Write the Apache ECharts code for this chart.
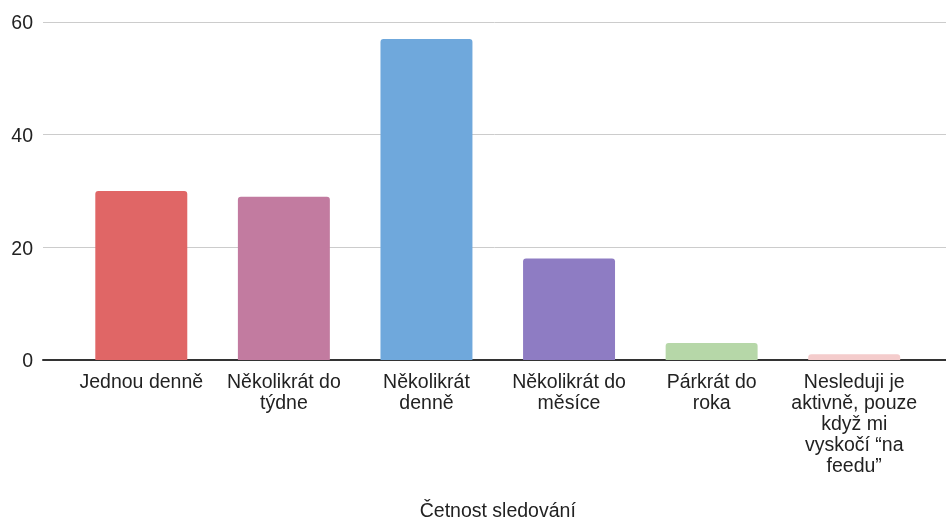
<!DOCTYPE html>
<html>
<head>
<meta charset="utf-8">
<script src="https://cdn.jsdelivr.net/npm/echarts@6/dist/echarts.min.js"></script>
<style>
  html, body { margin: 0; padding: 0; background: #fff; }
  #chart { width: 946px; height: 520px; }
</style>
</head>
<body>
<div id="chart"></div>
<script>
// Frequency categories (tick labels carry their own line breaks)
const categories = [
  'Jednou denně',
  'Několikrát do\ntýdne',
  'Několikrát\ndenně',
  'Několikrát do\nměsíce',
  'Párkrát do\nroka',
  'Nesleduji je\naktivně, pouze\nkdyž mi\nvyskočí “na\nfeedu”'
];
const counts = [30, 29, 57, 18, 3, 1];
const barColors = ['#e06666', '#c27ba0', '#6fa8dc', '#8e7cc3', '#b6d7a8', '#f4cccc'];
const yTicks = [0, 20, 40, 60];
const axisTitle = 'Četnost sledování';

const FONT = '"Liberation Sans", Arial, sans-serif';
const TEXT = '#222222';
const chart = echarts.init(document.getElementById('chart'), null, { renderer: 'canvas' });

chart.setOption({
  animation: false,
  grid: [
    // full-width grid: gridlines, baseline and value labels
    { left: 43, right: 0, top: 22, bottom: 160, containLabel: false, outerBoundsMode: 'none' },
    // inset grid holding the bars and category labels
    { left: 70, right: 20.5, top: 22, bottom: 160, containLabel: false, outerBoundsMode: 'none' }
  ],
  xAxis: [
    {
      gridIndex: 0, type: 'value', min: 0, max: 1,
      axisLine: { show: true, lineStyle: { color: '#333', width: 2 } },
      axisTick: { show: false }, axisLabel: { show: false }, splitLine: { show: false }
    },
    {
      gridIndex: 1, type: 'category', data: categories,
      axisLine: { show: false }, axisTick: { show: false },
      axisLabel: {
        interval: 0, margin: 12, color: TEXT,
        fontFamily: FONT, fontSize: 19.5, lineHeight: 21, align: 'center'
      },
      name: axisTitle, nameLocation: 'middle', nameGap: 142,
      nameTextStyle: { color: TEXT, fontFamily: FONT, fontSize: 19.5 }
    }
  ],
  yAxis: [
    {
      gridIndex: 0, type: 'value', min: yTicks[0], max: yTicks[yTicks.length - 1], interval: 20,
      axisLine: { show: false }, axisTick: { show: false },
      axisLabel: {
        color: TEXT, fontFamily: FONT, fontSize: 19.5, margin: 10,
        verticalAlign: 'top', lineHeight: 20, padding: [-8, 0, 0, 0]
      },
      splitLine: { lineStyle: { color: '#cccccc', width: 1 } }
    },
    {
      gridIndex: 1, type: 'value', min: yTicks[0], max: yTicks[yTicks.length - 1], interval: 20,
      show: false
    }
  ],
  series: [{
    type: 'bar',
    xAxisIndex: 1, yAxisIndex: 1,
    data: counts.map((v, i) => ({ value: v, itemStyle: { color: barColors[i] } })),
    barCategoryGap: '35.5%',
    itemStyle: { borderRadius: [3, 3, 0, 0] },
    z: 1
  }]
});
</script>
</body>
</html>
